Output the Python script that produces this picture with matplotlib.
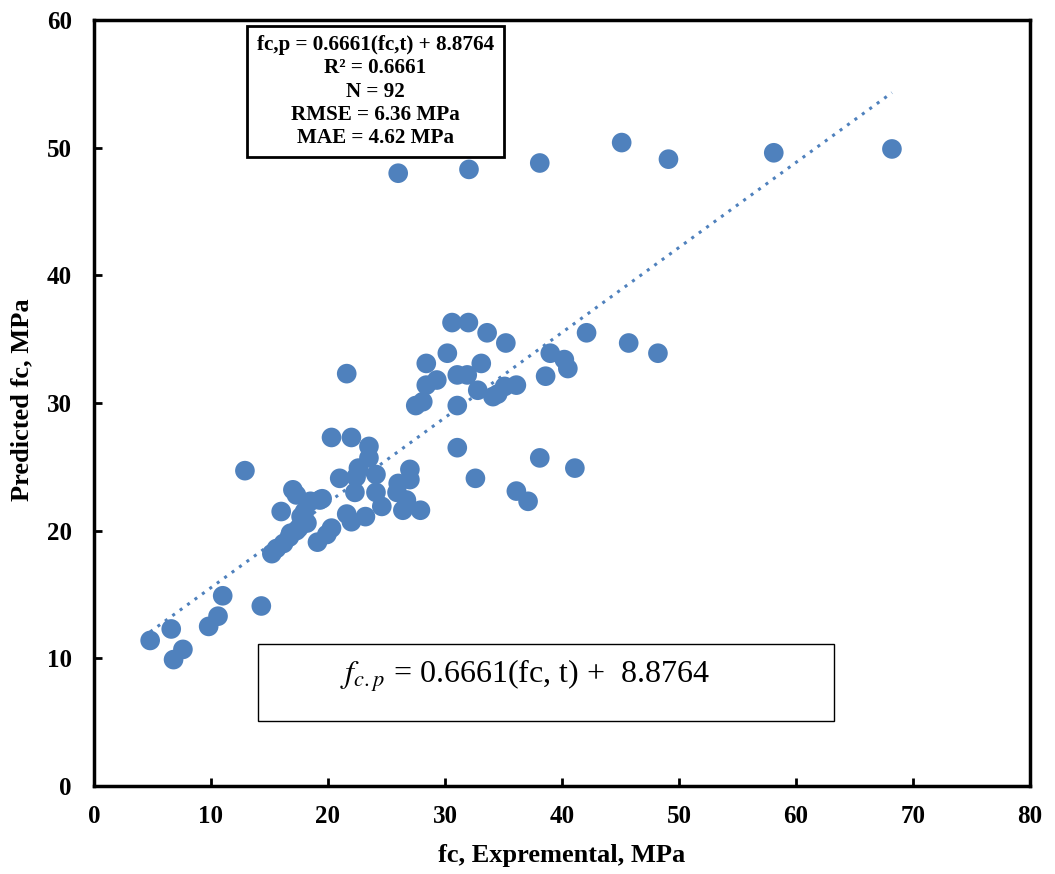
import matplotlib
matplotlib.use("Agg")
from matplotlib import pyplot as plt
from matplotlib.patches import Rectangle
import numpy as np

plt.rcParams['font.family'] = ['Liberation Serif', 'DejaVu Serif']
plt.rcParams['mathtext.fontset'] = 'stix'

fc_exp = [4.8, 6.6, 6.8, 7.6, 9.8, 10.6, 11.0, 14.3, 12.9,
          15.2, 15.6, 16.2, 16.7, 17.3, 17.7, 18.2, 16.0, 17.0, 17.3, 18.5,
          19.3, 19.5, 19.1, 19.9, 20.3, 21.6, 22.0, 23.2, 24.6, 17.5, 18.0, 16.8,
          20.3, 22.0, 23.5, 23.5, 22.6, 24.1, 21.0, 22.3, 24.1, 27.0, 27.0, 26.0,
          25.9, 26.7, 26.4, 27.9, 21.6, 22.4,
          30.6, 32.0, 33.6, 35.2, 30.2, 28.4, 33.1, 29.3, 28.4, 31.05, 31.9,
          27.5, 28.1, 31.05, 32.8, 34.1, 34.5, 35.1, 36.1, 38.6, 39.0, 40.2,
          40.5, 42.1, 45.7, 48.2,
          31.05, 38.1, 41.1, 32.6, 36.1, 37.1,
          26.0, 32.05, 38.1, 45.1, 49.1, 58.1, 68.2]
fc_pred = [11.4, 12.3, 9.9, 10.7, 12.5, 13.3, 14.9, 14.1, 24.7,
           18.2, 18.6, 19.0, 19.5, 20.0, 21.1, 20.6, 21.5, 23.2, 22.8, 22.3,
           22.4, 22.5, 19.1, 19.7, 20.2, 21.3, 20.7, 21.1, 21.9, 20.2, 21.5, 19.8,
           27.3, 27.3, 26.6, 25.7, 24.9, 24.4, 24.1, 23.0, 23.0, 24.8, 24.0, 23.7,
           23.0, 22.4, 21.6, 21.6, 32.3, 24.2,
           36.3, 36.3, 35.5, 34.7, 33.9, 33.1, 33.1, 31.8, 31.4, 32.2, 32.2,
           29.8, 30.1, 29.8, 31.0, 30.5, 30.7, 31.3, 31.4, 32.1, 33.9, 33.4,
           32.7, 35.5, 34.7, 33.9,
           26.5, 25.7, 24.9, 24.1, 23.1, 22.3,
           48.0, 48.3, 48.8, 50.4, 49.1, 49.6, 49.9]

slope = 0.6661
intercept = 8.8764
blue = '#4F81BD'

fig = plt.figure(figsize=(10.55, 8.74), dpi=100)
ax = fig.add_axes([0.0891, 0.1007, 0.8872, 0.8764])

ax.scatter(fc_exp, fc_pred, s=200, color=blue, edgecolors='none', zorder=3)

xs = np.array([min(fc_exp), max(fc_exp)])
ax.plot(xs, slope * xs + intercept, linestyle=(0, (1, 2)), color=blue, linewidth=2.2, zorder=2)

ax.set_xlim(0, 80)
ax.set_ylim(0, 60)
ax.set_xticks(range(0, 81, 10))
ax.set_yticks(range(0, 61, 10))
ax.tick_params(direction='in', length=6, width=2, labelsize=18)
ax.tick_params(axis='x', pad=14)
ax.tick_params(axis='y', pad=16)
for lbl in ax.get_xticklabels() + ax.get_yticklabels():
    lbl.set_fontweight('bold')
for s in ax.spines.values():
    s.set_linewidth(2.5)

ax.set_xlabel("fc, Expremental, MPa", fontsize=19, fontweight='bold', va='center')
ax.set_ylabel("Predicted fc, MPa", fontsize=19, fontweight='bold', va='center')
ax.xaxis.set_label_coords(0.5, -0.0905)
ax.yaxis.set_label_coords(-0.0775, 0.504)

# stats box
ax.add_patch(Rectangle((0.163, 0.821), 0.275, 0.171, transform=ax.transAxes,
                       fill=False, edgecolor='black', linewidth=2, zorder=4))
stats = "fc,p = 0.6661(fc,t) + 8.8764\nR² = 0.6661\nN = 92\nRMSE = 6.36 MPa\nMAE = 4.62 MPa"
ax.text(0.3005, 0.9064, stats, transform=ax.transAxes, ha='center', va='center',
        fontsize=15.2, fontweight='bold', linespacing=1.22, zorder=5)

# equation box
ax.add_patch(Rectangle((0.175, 0.085), 0.616, 0.100, transform=ax.transAxes,
                       fill=False, edgecolor='black', linewidth=1, zorder=4))
ax.text(0.263, 0.1435, r'$f_{c.p}$ = 0.6661(fc, t) +  8.8764', transform=ax.transAxes,
        ha='left', va='center', fontsize=23, zorder=5)

plt.savefig("out.png", dpi=100)
